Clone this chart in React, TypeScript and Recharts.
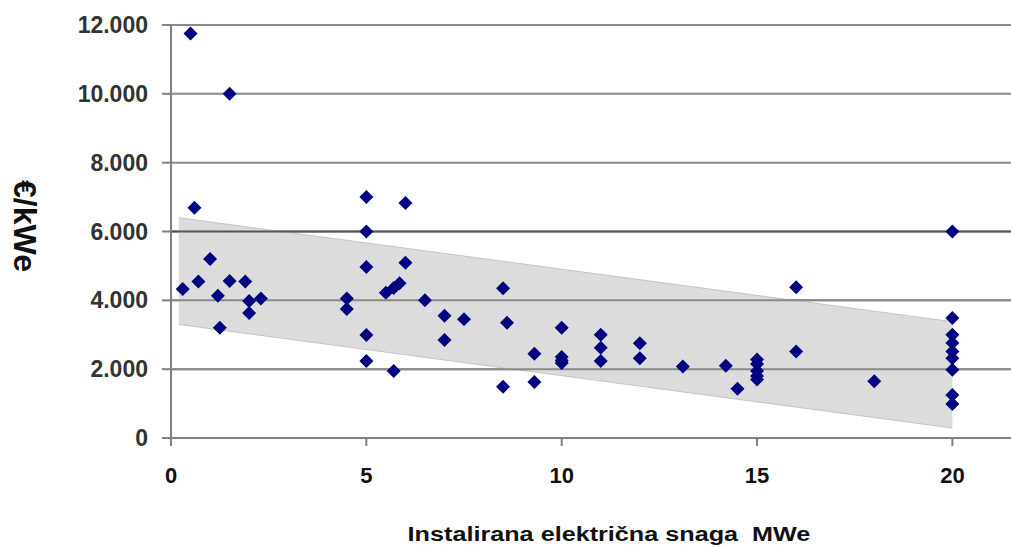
import React from 'react';
import {
  ComposedChart,
  Area,
  Scatter,
  XAxis,
  YAxis,
  CartesianGrid,
  ReferenceLine,
  Label
} from 'recharts';

// instalirana snaga (MWe) i specifični trošak (€/kWe)
const powerMWe = [
  0.5, 1.5, 0.6, 0.3, 0.7, 1.0, 1.2, 1.25, 1.5, 1.9, 2.0, 2.0, 2.3,
  4.5, 4.5, 5, 5, 5, 5, 5, 6, 6, 5.7, 5.5, 5.7, 5.85, 6.5, 7, 7, 7.5,
  8.5, 8.6, 8.5, 9.3, 9.3, 10, 10, 10, 10, 11, 11, 11, 12, 12,
  13.1, 14.2, 14.5, 15, 15, 15, 15, 15, 16, 16, 18,
  20, 20, 20, 20, 20, 20, 20, 20, 20
];
const costEurKWe = [
  11750, 10000, 6690, 4330, 4550, 5200, 4130, 3200, 4560, 4550, 3980, 3630, 4050,
  4050, 3750, 7000, 6000, 4970, 2990, 2240, 6830, 5090, 1950, 4220, 4360, 4500, 4000, 3550, 2850, 3450,
  4350, 3350, 1490, 2450, 1630, 3200, 2350, 2250, 2180, 3000, 2620, 2240, 2750, 2320,
  2080, 2100, 1430, 2280, 2150, 1950, 1800, 1700, 4380, 2510, 1650,
  6000, 3490, 3000, 2760, 2510, 2320, 1980, 1250, 990
];

// siva traka (raspon)
const bandX = [0.2, 20];
const bandLow = [3300, 290];
const bandHigh = [6400, 3380];

const yTicks = [0, 2000, 4000, 6000, 8000, 10000, 12000];
const xTicks = [0, 5, 10, 15, 20];

const points = powerMWe.map((x, i) => ({ x, y: costEurKWe[i] }));
const band = bandX.map((x, i) => ({ x, band: [bandLow[i], bandHigh[i]] }));

const fmtThousands = (v: number) =>
  v >= 1000 ? `${Math.floor(v / 1000)}.${String(v % 1000).padStart(3, '0')}` : `${v}`;

const Diamond = (props: any) => {
  const { cx, cy } = props;
  const r = 7;
  return (
    <polygon
      points={`${cx},${cy - r} ${cx + r},${cy} ${cx},${cy + r} ${cx - r},${cy}`}
      fill="#000080"
    />
  );
};

const font = 'Liberation Sans, Arial, sans-serif';

export default function App() {
  return (
    <div style={{ position: 'absolute', top: 0, left: 0, width: 1011, height: 548, background: '#fff', overflow: 'hidden' }}>
      <ComposedChart
        width={1011}
        height={548}
        data={band}
        margin={{ top: 25, right: 0, left: 0, bottom: 0 }}
      >
        <CartesianGrid vertical={false} stroke="#8a8a8a" strokeWidth={2} />
        <XAxis
          dataKey="x"
          type="number"
          domain={[0, 21.5]}
          ticks={xTicks}
          height={110}
          stroke="#808080"
          strokeWidth={2}
          tickSize={8}
          tickMargin={21}
          tick={{ fill: '#111', fontSize: 22, fontWeight: 'bold', fontFamily: font }}
        >
          <Label
            content={() => (
              <text
                x={0}
                y={0}
                transform="translate(609, 541) scale(1.2, 1)"
                textAnchor="middle"
                fill="#111"
                fontSize={21}
                fontWeight="bold"
                fontFamily={font}
                style={{ whiteSpace: 'pre' }}
              >
                Instalirana električna snaga  MWe
              </text>
            )}
          />
        </XAxis>
        <YAxis
          dataKey="y"
          type="number"
          domain={[0, 12000]}
          ticks={yTicks}
          width={171}
          stroke="#808080"
          strokeWidth={2}
          tickSize={9}
          tickMargin={14}
          tickFormatter={fmtThousands}
          tick={{ fill: '#333', fontSize: 23, fontWeight: 'bold', fontFamily: font }}
        >
          <Label
            content={() => (
              <text
                x={0}
                y={0}
                transform="translate(14, 226) rotate(90)"
                textAnchor="middle"
                fill="#111"
                fontSize={32}
                fontWeight="bold"
                fontFamily={font}
              >
                €/kWe
              </text>
            )}
          />
        </YAxis>
        <Area
          dataKey="band"
          type="linear"
          fill="#dcdcdc"
          fillOpacity={1}
          stroke="#c4c4c4"
          strokeWidth={1}
          isAnimationActive={false}
          dot={false}
          activeDot={false}
        />
        {yTicks.slice(1, 4).map((t) => (
          <ReferenceLine key={t} y={t} stroke={t === 6000 ? '#555' : '#8a8a8a'} strokeWidth={2} />
        ))}
        <Scatter
          data={points}
          dataKey="y"
          shape={<Diamond />}
          isAnimationActive={false}
        />
      </ComposedChart>
    </div>
  );
}
